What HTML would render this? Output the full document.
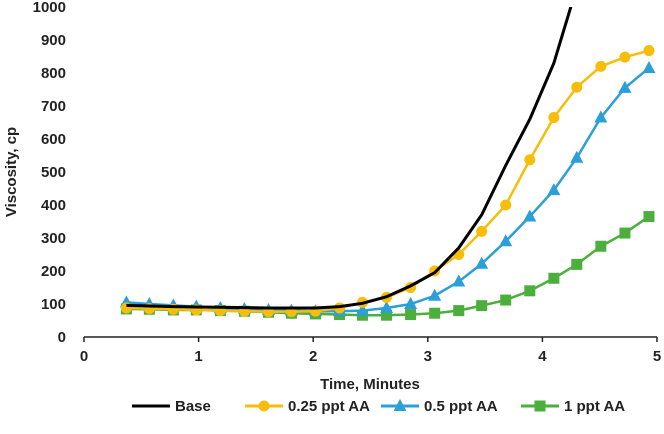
<!DOCTYPE html>
<html><head><meta charset="utf-8"><style>
body{margin:0;background:#fff;}
svg{display:block;font-family:"Liberation Sans",sans-serif;font-weight:bold;}
</style></head><body>
<svg id="c" width="664" height="434"></svg>
<script>
const xs=[0.37,0.57,0.78,0.98,1.19,1.4,1.61,1.81,2.02,2.23,2.43,2.64,2.85,3.06,3.27,3.47,3.68,3.89,4.1,4.3,4.51,4.72,4.93];
const baseVals=[96,94,92,91,90,89,88,88,88,92,102,122,155,195,270,370,520,660,830,1060];
const aa025=[88,86,84,82,80,78,77,77,78,88,105,120,150,200,250,320,400,537,665,757,820,848,868];
const aa05=[105,100,96,92,88,85,82,80,78,78,80,88,100,125,168,222,290,365,445,543,665,755,815];
const aa1=[85,84,82,82,80,78,75,72,70,68,66,66,68,72,80,95,112,140,178,220,275,315,365];
const yTicks=[0,100,200,300,400,500,600,700,800,900,1000];
const xTicks=[0,1,2,3,4,5];
const NS="http://www.w3.org/2000/svg",svg=document.getElementById('c');
const X=v=>84+v*114.6, Y=v=>337-v*0.33;
function mk(t,a,p){const e=document.createElementNS(NS,t);for(const k in a)e.setAttribute(k,a[k]);(p||svg).appendChild(e);return e;}
const defs=mk('defs',{});const cp=mk('clipPath',{id:'pc'},defs);mk('rect',{x:0,y:Y(1000),width:664,height:337-Y(1000)},cp);
yTicks.forEach(v=>{const t=mk('text',{x:66,y:Y(v)+5,'text-anchor':'end','font-size':15,fill:'#222'});t.textContent=v;

});
const ax=mk('line',{x1:X(0),y1:337,x2:X(5),y2:337,stroke:'#222','stroke-width':1.5});


xTicks.forEach(v=>{mk('line',{x1:X(v),y1:337,x2:X(v),y2:342,stroke:'#222','stroke-width':1.5});
const t=mk('text',{x:X(v),y:361,'text-anchor':'middle','font-size':15,fill:'#222'});t.textContent=v;

});
const xt=mk('text',{x:370,y:389,'text-anchor':'middle','font-size':15,fill:'#222'});xt.textContent='Time, Minutes';


const yt=mk('text',{x:16,y:172,'text-anchor':'middle','font-size':15,fill:'#222',transform:'rotate(-90 16 172)'});yt.textContent='Viscosity, cp';


function series(vals,color,marker,name){
const g=mk('g',{'clip-path':'url(#pc)'});


mk('polyline',{points:vals.map((v,i)=>X(xs[i])+','+Y(v)).join(' '),fill:'none',stroke:color,'stroke-width':marker?2.5:3},g);
if(marker)vals.forEach((v,i)=>{const m=drawMarker(marker,X(xs[i]),Y(v),color,g);

});}
function drawMarker(k,x,y,c,p){
if(k==='c')return mk('circle',{cx:x,cy:y,r:5.5,fill:c},p);
if(k==='t')return mk('polygon',{points:`${x},${y-7} ${x-6.5},${y+5} ${x+6.5},${y+5}`,fill:c},p);
return mk('rect',{x:x-5.5,y:y-5.5,width:11,height:11,fill:c},p);}
series(aa1,'#4cae3c','s','series-1-ppt');
series(aa05,'#2a9fd8','t','series-0-5-ppt');
series(aa025,'#f7bd0b','c','series-0-25-ppt');
series(baseVals,'#000',null,'series-base');
const leg=[['Base','#000',null,132],['0.25 ppt AA','#f7bd0b','c',245],['0.5 ppt AA','#2a9fd8','t',381],['1 ppt AA','#4cae3c','s',521]];
leg.forEach(([n,c,m,x])=>{const g=mk('g',{});


mk('line',{x1:x,y1:406,x2:x+38,y2:406,stroke:c,'stroke-width':3},g);
if(m)drawMarker(m,x+19,406,c,g);
const t=mk('text',{x:x+43,y:411,'font-size':15,fill:'#222'},g);t.textContent=n;});
</script>
</body></html>
